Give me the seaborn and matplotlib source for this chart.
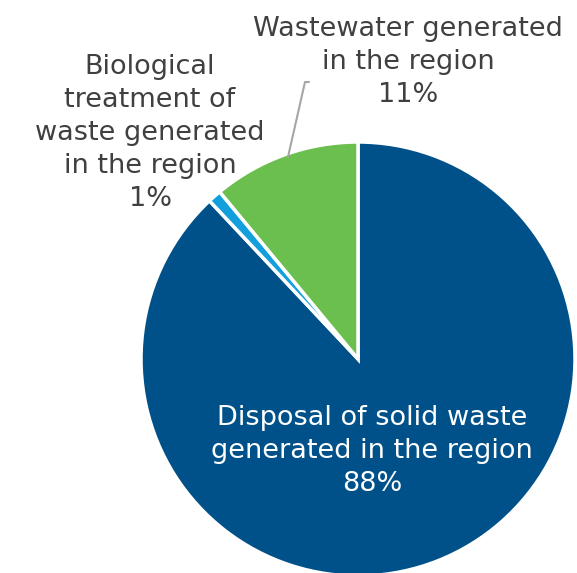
import matplotlib
matplotlib.use("Agg")
import matplotlib.pyplot as plt
import seaborn as sns

labels = ["Disposal of solid waste\ngenerated in the region",
          "Biological\ntreatment of\nwaste generated\nin the region",
          "Wastewater generated\nin the region"]
shares = [88, 1, 11]
colors = ["#005189", "#12A0DC", "#6BBF4E"]

sns.set_theme(style="white")
plt.rcParams["font.family"] = ["DejaVu Sans"]

W, H = 577, 573
fig = plt.figure(figsize=(W / 100, H / 100), dpi=100)
ax = fig.add_axes([0, 0, 1, 1])

cx, cy, r = 358, H - 359, 217
ax.pie(shares, colors=colors, startangle=90, counterclock=False,
       center=(cx, cy), radius=r, frame=True,
       wedgeprops=dict(edgecolor="white", linewidth=2.5))
ax.set_xlim(0, W)
ax.set_ylim(0, H)
ax.set_aspect("equal")
ax.axis("off")

txt = dict(ha="center", va="center", fontsize=19.5, color="#404040",
           linespacing=1.36)
ax.text(372, H - 451, f"{labels[0]}\n{shares[0]}%", **{**txt, "color": "white"})
ax.text(150, H - 133, f"{labels[1]}\n{shares[1]}%", **txt)
ax.text(408, H - 62, f"{labels[2]}\n{shares[2]}%", **txt)

ax.plot([288, 305, 309], [H - 157, H - 82, H - 82], color="#A6A6A6", lw=1.5)

fig.savefig("out.png", dpi=100)
